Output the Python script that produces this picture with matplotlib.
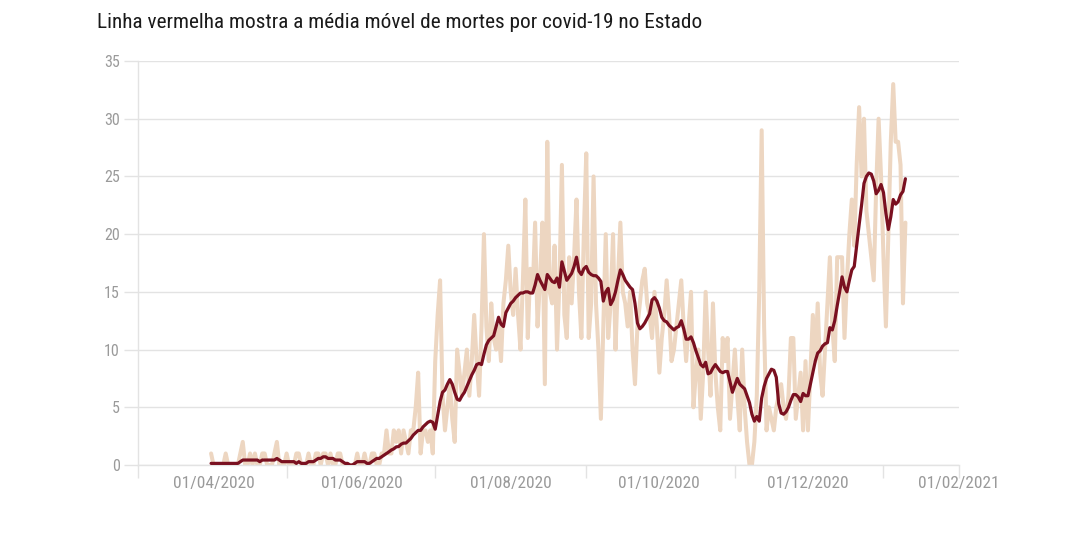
import matplotlib
matplotlib.use("Agg")
import matplotlib.pyplot as plt
from matplotlib import font_manager
import pandas as pd

# ---------------- data ----------------
start_date = "2020-03-31"

daily_deaths = [
    1, 0, 0, 0, 0, 0, 1, 0, 0, 0,
    0, 0, 1, 2, 0, 0, 1, 0, 1, 0,
    0, 1, 1, 0, 0, 0, 1, 2, 0, 0,
    0, 1, 0, 0, 0, 1, 1, 0, 0, 0,
    1, 0, 0, 1, 1, 0, 1, 1, 0, 1,
    0, 0, 1, 1, 0, 0, 0, 0, 0, 0,
    1, 0, 0, 1, 0, 0, 1, 1, 0, 0,
    1, 1, 3, 1, 1, 3, 2, 3, 1, 3,
    2, 1, 3, 3, 5, 8, 1, 3, 3, 2,
    3, 1, 9, 13, 16, 6, 3, 5, 7, 4,
    2, 10, 8, 6, 8, 10, 6, 9, 13, 9,
    6, 12, 20, 12, 9, 14, 11, 10, 12, 9,
    14, 16, 19, 15, 13, 17, 13, 10, 16, 23,
    11, 17, 15, 21, 12, 16, 21, 7, 28, 15,
    14, 19, 10, 16, 26, 13, 11, 18, 14, 18,
    23, 15, 11, 20, 27, 11, 14, 25, 14, 10,
    4, 12, 20, 11, 14, 20, 10, 16, 21, 15,
    14, 12, 15, 10, 7, 12, 14, 16, 17, 14,
    13, 11, 15, 12, 8, 11, 13, 16, 13, 9,
    10, 12, 14, 16, 12, 9, 12, 15, 5, 8,
    10, 4, 8, 15, 10, 6, 14, 8, 5, 3,
    11, 9, 11, 4, 7, 10, 6, 3, 10, 5,
    2, 0, 0, 2, 6, 15, 29, 12, 3, 5,
    4, 3, 5, 6, 7, 5, 4, 6, 11, 11,
    4, 6, 8, 3, 9, 3, 8, 13, 9, 14,
    8, 6, 10, 14, 18, 12, 9, 18, 18, 18,
    11, 16, 20, 23, 19, 26, 31, 25, 30, 22,
    20, 18, 16, 24, 30, 25, 18, 12, 20, 28,
    33, 28, 28, 26, 14, 21,
]

moving_avg = [
    .14, .14, .14, .14, .14, .14, .14, .14, .14, .14,
    .14, .14, .29, .43, .43, .43, .43, .43, .43, .43,
    .29, .43, .43, .43, .43, .43, .43, .57, .43, .29,
    .29, .29, .29, .29, .29, .14, .29, .14, .14, .14,
    .29, .29, .29, .43, .57, .57, .71, .71, .57, .57,
    .57, .43, .43, .43, .29, .14, .14, 0, 0, .14,
    .29, .29, .29, .29, .14, .14, .29, .43, .57, .57,
    .71, .86, 1.0, 1.14, 1.3, 1.4, 1.57, 1.6, 1.8, 1.9,
    1.9, 2.1, 2.3, 2.6, 2.8, 3.0, 3.0, 3.3, 3.5, 3.7,
    3.8, 3.7, 3.1, 4.3, 5.5, 6.3, 6.5, 7.0, 7.4, 7.0,
    6.3, 5.7, 5.6, 6.0, 6.3, 6.8, 7.3, 7.8, 8.2, 8.7,
    8.8, 8.7, 9.6, 10.4, 10.8, 11.0, 11.2, 12.0, 12.8, 12.2,
    12.0, 13.2, 13.6, 14.0, 14.2, 14.5, 14.7, 14.9, 14.9, 15.0,
    15.0, 14.9, 14.9, 15.6, 16.5, 16.0, 15.6, 15.2, 16.5, 16.2,
    15.9, 15.8, 16.2, 15.4, 17.6, 16.8, 16.0, 16.3, 16.6, 17.2,
    18.0, 16.8, 16.5, 17.0, 17.2, 16.7, 16.5, 16.4, 16.4, 16.2,
    15.9, 14.2, 15.0, 15.3, 13.9, 14.3, 15.0, 16.0, 16.9, 16.5,
    16.0, 15.7, 15.4, 15.2, 14.0, 12.3, 11.8, 12.0, 12.3, 12.7,
    13.1, 14.3, 14.5, 14.2, 13.6, 12.8, 12.5, 12.4, 12.1, 11.9,
    11.7, 11.9, 12.0, 12.5, 11.8, 10.9, 10.9, 11.1, 10.6, 9.9,
    9.3, 8.7, 8.5, 8.9, 7.9, 8.0, 8.4, 8.7, 8.4, 8.1,
    8.0, 8.1, 8.1, 7.2, 6.3, 6.9, 7.5, 7.0, 6.8, 6.6,
    6.0, 5.4, 4.4, 3.8, 4.2, 3.8, 5.8, 6.8, 7.5, 7.9,
    8.3, 8.2, 7.6, 5.3, 4.5, 4.4, 4.6, 5.0, 5.6, 6.1,
    6.1, 5.9, 5.5, 6.2, 6.0, 6.0, 7.0, 8.0, 9.0, 9.7,
    9.9, 10.3, 10.5, 10.6, 11.9, 11.7, 12.5, 13.8, 15.0, 16.3,
    15.4, 15.0, 16.0, 16.9, 17.2, 19.0, 20.8, 22.5, 24.4, 25.0,
    25.3, 25.2, 24.6, 23.5, 23.8, 24.3, 23.6, 21.8, 20.4, 21.5,
    23.0, 22.6, 22.8, 23.4, 23.7, 24.8,
]

title = "Linha vermelha mostra a média móvel de mortes por covid-19 no Estado"
x_label_dates = ["2020-04-01", "2020-06-01", "2020-08-01", "2020-10-01",
                 "2020-12-01", "2021-02-01"]
x_tick_dates = ["2020-03-01", "2020-05-01", "2020-07-01", "2020-09-01",
                "2020-11-01", "2021-01-01", "2021-02-01"]
y_ticks = [0, 5, 10, 15, 20, 25, 30, 35]

# ---------------- fonts ----------------
avail = {f.name for f in font_manager.fontManager.ttflist}
family = "Roboto"
for cand in ["Roboto Condensed", "Liberation Sans Narrow", "Roboto"]:
    if cand in avail:
        family = cand
        break
plt.rcParams["font.family"] = [family, "DejaVu Sans"]

# ---------------- plot ----------------
n = min(len(daily_deaths), len(moving_avg))
dates = pd.date_range(start_date, periods=n, freq="D")

fig = plt.figure(figsize=(10.8, 5.38), dpi=100)
ax = fig.add_axes([138 / 1080, 1 - 465 / 538, (959 - 138) / 1080, (465 - 61) / 538])

beige = "#EDD6C1"
red = "#7A1020"
grid_c = "#E3E3E3"
tick_c = "#9A9A9A"

ax.plot(dates, daily_deaths[:n], color=beige, lw=2.9, solid_joinstyle="round",
        solid_capstyle="round", zorder=2)
ax.plot(dates, moving_avg[:n], color=red, lw=2.3, solid_joinstyle="round",
        solid_capstyle="round", zorder=3)

ax.set_xlim(pd.Timestamp("2020-03-01"), pd.Timestamp("2021-02-01"))
ax.set_ylim(0, 35)

# y axis
ax.set_yticks(y_ticks)
ax.set_yticklabels([str(v) for v in y_ticks])
ax.yaxis.grid(True, color=grid_c, lw=1)
ax.tick_params(axis="y", length=10, width=1, color=grid_c, labelcolor=tick_c,
               labelsize=11.5, pad=3)

# x axis: tick marks at odd months, labels at even months
ax.xaxis.remove_overlapping_locs = False
ax.set_xticks([pd.Timestamp(d) for d in x_tick_dates])
ax.set_xticklabels([""] * len(x_tick_dates))
ax.set_xticks([pd.Timestamp(d) for d in x_label_dates], minor=True)
ax.set_xticklabels([pd.Timestamp(d).strftime("%d/%m/%Y") for d in x_label_dates],
                   minor=True)
ax.tick_params(axis="x", which="major", length=9, width=1, color=grid_c)
ax.tick_params(axis="x", which="minor", length=0, labelcolor=tick_c,
               labelsize=12.5, pad=8)

for s in ["top", "right"]:
    ax.spines[s].set_visible(False)
ax.spines["left"].set_color(grid_c)
ax.spines["bottom"].set_color(grid_c)
ax.spines["left"].set_linewidth(1)
ax.spines["bottom"].set_linewidth(1)
ax.set_axisbelow(True)

fig.text(97 / 1080, 1 - 22 / 538, title, ha="left", va="center",
         fontsize=15.3, color="#1a1a1a")

fig.savefig("out.png", dpi=100, facecolor="white")
